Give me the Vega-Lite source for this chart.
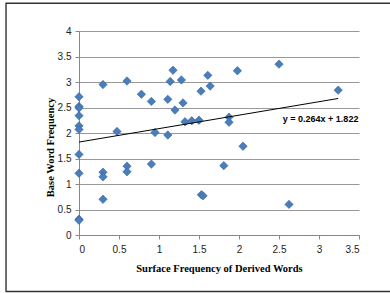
{
  "$schema": "https://vega.github.io/schema/vega-lite/v6.json",
  "width": 280,
  "height": 204,
  "autosize": {"type": "none"},
  "padding": {"left": 79, "top": 31, "right": 31, "bottom": 58},
  "background": "white",
  "config": {
    "view": {"stroke": null},
    "axis": {
      "labelFont": "Liberation Sans",
      "labelFontSize": 10,
      "labelColor": "#222",
      "titleFont": "Liberation Serif",
      "titleFontSize": 10.5,
      "titleFontWeight": "bold",
      "titleColor": "#000",
      "domainColor": "#888",
      "tickColor": "#888",
      "gridColor": "#999",
      "gridOpacity": 1,
      "tickSize": 4
    }
  },
  "encoding": {
    "x": {
      "field": "x", "type": "quantitative",
      "scale": {"domain": [0, 3.5], "nice": false, "zero": false},
      "axis": {
        "values": [0, 0.5, 1, 1.5, 2, 2.5, 3, 3.5],
        "tickCount": 8,
        "format": "~g",
        "grid": false,
        "labelPadding": 5,
        "title": "Surface Frequency of Derived Words",
        "titleX": 140,
        "titleY": 33,
        "titleBaseline": "middle"
      }
    },
    "y": {
      "field": "y", "type": "quantitative",
      "scale": {"domain": [0, 4], "nice": false, "zero": false},
      "axis": {
        "values": [0, 0.5, 1, 1.5, 2, 2.5, 3, 3.5, 4],
        "tickCount": 9,
        "format": "~g",
        "grid": true,
        "labelPadding": 4,
        "title": "Base Word Frequency",
        "titleX": -29,
        "titleY": 116,
        "titleAngle": -90,
        "titleBaseline": "middle"
      }
    }
  },
  "layer": [
    {
      "data": {
        "values": [
          {"x": 0, "y": 2.71}, {"x": 0, "y": 2.52}, {"x": 0, "y": 2.49}, {"x": 0, "y": 2.34},
          {"x": 0, "y": 2.14}, {"x": 0, "y": 2.07}, {"x": 0, "y": 1.58}, {"x": 0, "y": 1.21},
          {"x": 0, "y": 0.31}, {"x": 0, "y": 0.29},
          {"x": 0.3, "y": 2.95}, {"x": 0.3, "y": 1.23}, {"x": 0.3, "y": 1.14}, {"x": 0.3, "y": 0.7},
          {"x": 0.475, "y": 2.03},
          {"x": 0.6, "y": 3.02}, {"x": 0.6, "y": 1.35}, {"x": 0.6, "y": 1.24},
          {"x": 0.78, "y": 2.76},
          {"x": 0.905, "y": 2.62}, {"x": 0.905, "y": 1.39},
          {"x": 0.95, "y": 2.01},
          {"x": 1.11, "y": 2.66}, {"x": 1.11, "y": 1.96},
          {"x": 1.14, "y": 3.01},
          {"x": 1.175, "y": 3.23},
          {"x": 1.2, "y": 2.45},
          {"x": 1.28, "y": 3.04},
          {"x": 1.3, "y": 2.59},
          {"x": 1.325, "y": 2.22},
          {"x": 1.41, "y": 2.24},
          {"x": 1.5, "y": 2.25},
          {"x": 1.525, "y": 2.82},
          {"x": 1.53, "y": 0.79}, {"x": 1.55, "y": 0.77},
          {"x": 1.61, "y": 3.13},
          {"x": 1.64, "y": 2.92},
          {"x": 1.81, "y": 1.36},
          {"x": 1.875, "y": 2.31}, {"x": 1.875, "y": 2.21},
          {"x": 1.98, "y": 3.22},
          {"x": 2.05, "y": 1.74},
          {"x": 2.5, "y": 3.35},
          {"x": 2.625, "y": 0.6},
          {"x": 3.24, "y": 2.84}
        ]
      },
      "mark": {"type": "point", "shape": "diamond", "filled": true, "size": 70, "color": "#4a7ebb", "stroke": "#35639a", "strokeWidth": 0.6, "opacity": 1}
    },
    {
      "data": {"values": [{"x": 0, "y": 1.822}, {"x": 3.24, "y": 2.677}]},
      "mark": {"type": "line", "color": "#000", "strokeWidth": 1}
    },
    {
      "data": {"values": [{"label": "y = 0.264x + 1.822", "x": 3.02, "y": 2.27}]},
      "mark": {"type": "text", "font": "Liberation Sans", "fontSize": 9, "fontWeight": "bold", "color": "#000", "align": "center", "baseline": "middle"},
      "encoding": {
        "text": {"field": "label", "type": "nominal"}
      }
    },
    {
      "data": {"values": [{"x": -0.912, "x1": 3.93, "y": -1.108, "y1": 4.543}]},
      "mark": {"type": "rect", "fill": null, "stroke": "#333", "strokeWidth": 1.4, "clip": false},
      "encoding": {
        "x2": {"field": "x1"},
        "y2": {"field": "y1"}
      }
    }
  ]
}
